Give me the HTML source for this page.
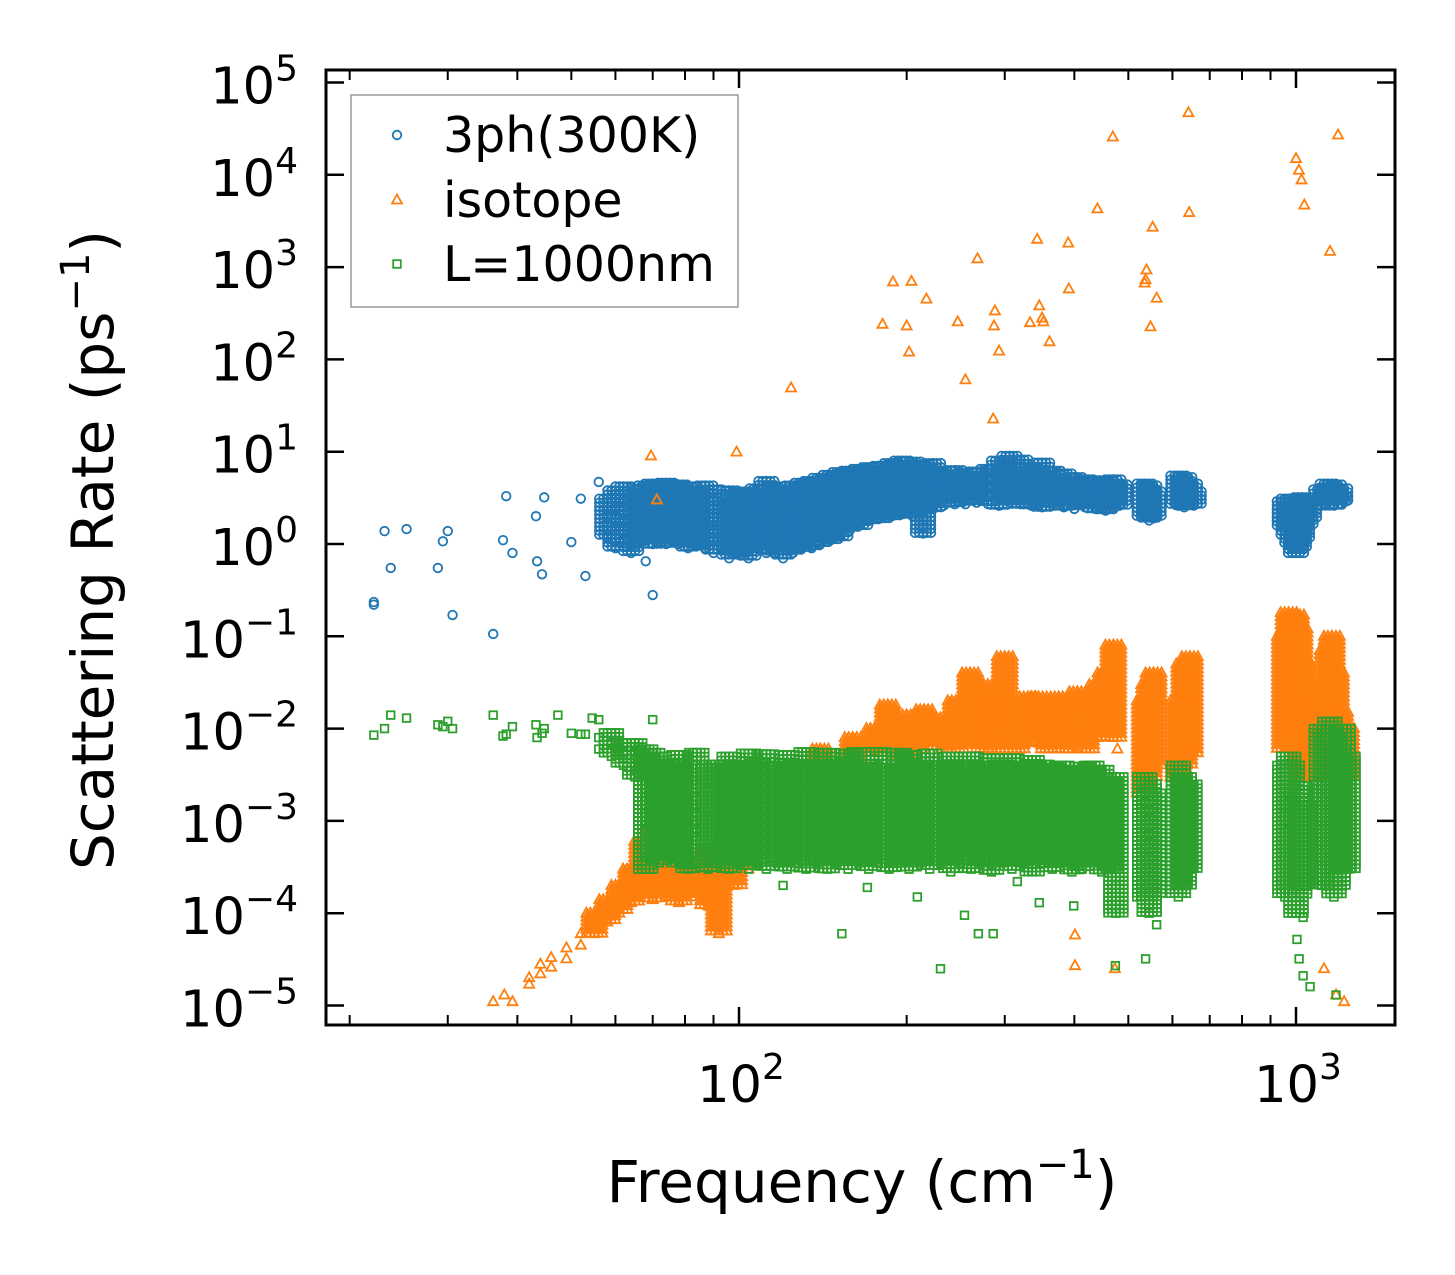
<!DOCTYPE html>
<html><head><meta charset="utf-8"><style>
html,body{margin:0;padding:0;background:#fff;}
svg{display:block;}
text{font-family:"DejaVu Sans","Liberation Sans",sans-serif;fill:#000;}
</style></head>
<body>
<svg id="chart" width="1455" height="1275" viewBox="0 0 1455 1275">
<g id="series"></g>
<g id="axes"></g>
</svg>
<script>
// ---- data ----
const blueSparse = [[22.1,0.235],[22.1,0.22],[23.1,1.38],[23.7,0.55],[25.3,1.45],[28.8,0.55],[29.4,1.07],[30.0,1.38],[30.6,0.17],[36.2,0.106],[38.2,3.3],[37.7,1.1],[39.2,0.8],[43.2,2.0],[43.4,0.65],[44.3,0.47],[44.7,3.2],[50,1.05],[53,0.45],[52,3.1],[56,4.7],[70,0.28],[68,0.65],[66,2.9]];
const blueCols = [
[58,1.2,2.0,3.1],[60,0.9,1.5,2.4,3.8],[62,1.1,1.8,2.9,4.2],[64,0.8,1.3,2.2,3.4],[66,1.0,1.6,2.6,4.0],
[68,1.1,1.4,1.9,2.5,3.2,4.3],[70,1.0,1.3,1.7,2.2,2.9,3.7,4.5],[72,1.2,1.5,2.0,2.6,3.3,4.2],[74,1.0,1.3,1.7,2.3,3.0,3.9,4.6],
[76,1.1,1.4,1.9,2.5,3.2,4.1],[78,1.0,1.3,1.7,2.2,2.8,3.6,4.4],[81,0.9,1.2,1.6,2.1,2.7,3.5,4.2],[84,1.0,1.3,1.7,2.2,2.9,3.7],
[87,0.9,1.2,1.5,2.0,2.6,3.4,4.3],[90,0.8,1.1,1.4,1.8,2.4,3.1,3.9],[93,0.9,1.1,1.4,1.9,2.5,3.2],[96,0.7,1.0,1.3,1.7,2.2,2.9,3.8],
[100,0.8,1.0,1.3,1.7,2.2,2.9,3.6],[104,0.7,1.0,1.2,1.6,2.1,2.8,3.7],[108,0.9,1.1,1.4,1.8,2.4,3.1,4.0],[112,0.8,1.0,1.3,1.7,2.2,2.9,3.8,4.8],
[116,0.8,1.1,1.4,1.9,2.5,3.3,4.2],[120,0.7,1.0,1.3,1.7,2.2,2.9,3.8],[125,0.8,1.1,1.5,2.0,2.6,3.4,4.3],[130,0.9,1.2,1.6,2.1,2.8,3.6,4.6],
[135,0.9,1.2,1.6,2.1,2.8,3.7,4.8],[140,1.0,1.3,1.8,2.4,3.1,4.0,5.2],[146,1.1,1.5,2.0,2.6,3.4,4.4,5.6],[152,1.2,1.6,2.1,2.8,3.6,4.7,6.0],
[158,1.4,1.8,2.3,3.0,3.9,5.0,6.2],[165,1.6,2.0,2.6,3.3,4.2,5.3,6.5],[172,1.8,2.3,2.9,3.7,4.6,5.7,6.8],[180,1.9,2.4,3.0,3.8,4.8,6.0,7.0],
[188,2.0,2.5,3.2,4.0,5.0,6.3,7.5],[196,2.1,2.7,3.4,4.3,5.4,6.7,8.0],[205,2.0,2.6,3.3,4.2,5.3,6.6,7.8],[214,1.3,1.5,2.2,2.8,3.6,4.6,5.8,7.2],
[223,2.4,3.0,3.8,4.8,6.0,7.5],[233,2.6,3.2,4.0,5.0,6.2],[244,2.7,3.3,4.1,5.1,6.3],[255,2.7,3.3,4.0,4.9,5.9],[267,2.8,3.4,4.1,5.0,6.1],
[280,2.7,3.3,4.1,5.1,6.5],[293,2.6,3.2,4.0,5.0,6.4,8.0],[306,2.8,3.5,4.4,5.5,7.0,9.0],[320,2.7,3.4,4.3,5.4,6.8,8.2],[335,2.6,3.3,4.2,5.3,6.6],
[350,2.5,3.2,4.0,5.0,6.3,7.6],[366,2.6,3.3,4.1,5.1,6.2],[383,2.5,3.1,3.9,4.8,5.8],[400,2.4,3.0,3.7,4.5,5.3],[418,2.5,3.0,3.6,4.3,5.0],
[437,2.4,2.9,3.5,4.2,4.9],[455,2.3,2.8,3.4,4.1,4.8],[470,2.5,3.0,3.6,4.3,5.0],[482,2.6,3.1,3.7,4.4],
[535,2.0,2.5,3.1,3.8,4.5],[545,1.8,2.3,2.9,3.6,4.3],[555,1.9,2.4,3.0,3.7],[615,2.6,3.2,3.9,4.7,5.5],[630,2.5,3.1,3.8,4.6,5.3],
[645,2.7,3.2,3.8,4.5],[655,2.6,3.1,3.7],[955,1.5,1.9,2.4,2.9],[970,1.2,1.6,2.0,2.6,3.1],[985,1.0,1.3,1.7,2.2,2.8],
[1000,0.8,1.0,1.3,1.8,2.4],[1012,0.9,1.2,1.6,2.2,2.8],[1025,1.1,1.5,2.0,2.6,3.2],[1040,1.5,1.9,2.4,3.0],[1055,1.8,2.3,2.9],
[1110,2.6,3.2,3.9],[1140,2.8,3.4,4.1,4.5],[1170,2.6,3.2,3.9,4.4],[1200,2.7,3.3,4.0],[1230,2.9,3.4]];
const orangeSparse = [[69.5,9.0],[71.2,3.0],[99,9.9],[124,49],[181,240],[189,690],[200,230],[202,120],[204,700],[217,450],[247,255],[255,60],[268,1230],[286,22.6],[288,335],[287,230],[293,123],[343,2000],[333,250],[346,380],[350,280],[352,255],[361,155],[390,1820],[391,580],[440,4270],[469,25700],[539,930],[535,670],[537,730],[548,225],[553,2700],[562,460],[641,47000],[643,3900],[1000,15000],[1012,11200],[1023,8800],[1035,4700],[1151,1480],[1190,27000],
[36.2,1.1e-5],[37.9,1.3e-5],[39.2,1.1e-5],[401,5.8e-5],[401,2.7e-5],[473,2.5e-5],[1123,2.5e-5],[1220,1.1e-5],[1180,1.3e-5]];
const orangeCols = [
[42,1.7e-5,2.0e-5],[44,2.2e-5,2.8e-5],[46,2.6e-5,3.3e-5],[49,3.2e-5,4.2e-5],[52,4.5e-5,6e-5],[55,6e-5,8e-5,1.0e-4],[58,8e-5,1.1e-4,1.4e-4],
[61,1.0e-4,1.4e-4,2.0e-4],[64,1.3e-4,2.0e-4,3.0e-4],[67,1.8e-4,2.6e-4,4e-4,6e-4],[70,1.4e-4,2.2e-4,3.5e-4,5.5e-4,8e-4],[74,1.5e-4,2.5e-4,4e-4,6e-4,9e-4],
[78,1.3e-4,2.2e-4,3.5e-4,5.5e-4],[83,1.5e-4,2.5e-4,4e-4],[88,1.2e-4,2e-4,3e-4,5e-4],[92,6e-5,1.2e-4,2e-4,3.5e-4],[98,2e-4,3e-4,5e-4],[104,3e-4,5e-4,8e-4],
[120,3e-3,4e-3],[140,3e-3,4.5e-3,6e-3],[160,4e-3,6e-3,8e-3],[175,5e-3,7e-3,1e-2],[185,6e-3,9e-3,1.3e-2,1.8e-2],[200,5e-3,7e-3,1e-2,1.4e-2],
[215,6e-3,8e-3,1.1e-2,1.6e-2],[230,6e-3,9e-3,1.3e-2],[245,6e-3,9e-3,1.3e-2,2e-2],[260,7e-3,1e-2,1.5e-2,2.5e-2,4e-2],[275,6e-3,9e-3,1.3e-2,2e-2,3e-2],
[290,6e-3,9e-3,1.3e-2,2e-2],[300,8e-3,1.2e-2,1.8e-2,3e-2,5e-2,6e-2],[315,6e-3,9e-3,1.3e-2,2e-2],[330,7e-3,1e-2,1.5e-2,2.2e-2],[345,7e-3,1e-2,1.5e-2,2.2e-2],
[360,6e-3,9e-3,1.3e-2,2e-2],[375,7e-3,1e-2,1.5e-2,2.2e-2],[390,6e-3,9e-3,1.3e-2,2.0e-2],[405,7e-3,1e-2,1.5e-2,2.5e-2],[420,6e-3,9e-3,1.3e-2,2e-2],
[440,8e-3,1.2e-2,1.8e-2,3e-2],[455,1e-2,1.5e-2,2.5e-2,4e-2],[470,8e-3,1.3e-2,2e-2,3.5e-2,5.5e-2,8e-2],[478,6e-3,1e-2],
[535,2e-3,4e-3,7e-3,1.2e-2,2e-2],[545,3e-3,6e-3,1e-2,1.8e-2,3e-2],[555,4e-3,8e-3,1.5e-2,2.5e-2,4e-2],[615,3e-3,6e-3,1e-2,2e-2],
[630,4e-3,8e-3,1.5e-2,3e-2,5e-2],[645,5e-3,1e-2,2e-2,4e-2,6e-2],[955,6e-3,1.2e-2,2.5e-2,5e-2,1e-1],[970,8e-3,1.5e-2,3e-2,6e-2,1.2e-1,1.8e-1],
[985,1e-2,2e-2,4e-2,8e-2,1.5e-1],[1000,6e-3,1.2e-2,2.5e-2,5e-2,1e-1,1.7e-1],[1015,4e-3,8e-3,1.5e-2,3e-2,6e-2,1.2e-1],[1030,3e-3,6e-3,1.2e-2,2.5e-2,5e-2],
[1045,3e-3,6e-3,1e-2],[1110,3e-3,6e-3,1.2e-2,2.5e-2],[1140,1e-2,2e-2,4e-2,7e-2],[1160,6e-3,1.2e-2,2.5e-2,5e-2,1e-1],[1180,5e-3,1e-2,2e-2,4e-2],
[1200,4e-3,8e-3,1.5e-2],[1230,3e-3,6e-3,1e-2]];
const greenSparse = [[22.1,8.5e-3],[23.1,1e-2],[23.7,1.4e-2],[25.3,1.3e-2],[28.8,1.1e-2],[29.4,1.05e-2],[30,1.2e-2],[30.6,1e-2],[36.2,1.4e-2],[37.7,8.3e-3],[38.2,8.7e-3],[39.2,1.05e-2],[43.2,1.1e-2],[43.4,8e-3],[44.3,8.9e-3],[44.7,1e-2],[47.3,1.4e-2],[50,8.9e-3],[52,8.7e-3],[53,8.7e-3],[54.5,1.3e-2],[56,1.25e-2],[70,1.25e-2],
[120,2e-4],[153,6e-5],[170,1.9e-4],[209,1.5e-4],[230,2.5e-5],[254,9.5e-5],[269,6e-5],[286,6e-5],[316,2.2e-4],[346,1.3e-4],[399,1.2e-4],[474,2.7e-5],[537,3.2e-5],[562,7.5e-5],[1004,5.2e-5],[1013,3.2e-5],[1030,2.1e-5],[1060,1.6e-5],[1180,1.3e-5],[1030,9e-5]];
const greenCols = [
[56,6e-3,8e-3],[59,5e-3,7e-3,9e-3],[62,4e-3,5.5e-3,7e-3],[65,3e-3,4e-3,5.5e-3,7e-3],
[68,3e-4,5e-4,8e-4,1.2e-3,1.8e-3,2.7e-3,4e-3,6e-3],[70,4e-4,6e-4,9e-4,1.3e-3,1.9e-3,2.8e-3,4e-3,5.5e-3],[72,3.5e-4,5.5e-4,8e-4,1.2e-3,1.8e-3,2.6e-3,3.8e-3,5e-3],
[75,4e-4,6e-4,9e-4,1.3e-3,2e-3,2.9e-3,4.2e-3],[78,3.5e-4,5.5e-4,8.5e-4,1.2e-3,1.8e-3,2.7e-3,3.9e-3,5.2e-3],[81,3e-4,5e-4,7.5e-4,1.1e-3,1.7e-3,2.5e-3,3.7e-3],
[84,3.5e-4,5.5e-4,8e-4,1.2e-3,1.8e-3,2.7e-3,4e-3,5.5e-3],[88,3e-4,5e-4,7.5e-4,1.1e-3,1.7e-3,2.6e-3,3.8e-3],[92,3.5e-4,5.5e-4,8.5e-4,1.3e-3,1.9e-3,2.8e-3,4.1e-3],
[96,3e-4,4.5e-4,7e-4,1.05e-3,1.6e-3,2.4e-3,3.6e-3,5e-3],[100,3.5e-4,5.5e-4,8e-4,1.2e-3,1.8e-3,2.7e-3,4e-3],[104,3e-4,5e-4,7.5e-4,1.1e-3,1.7e-3,2.6e-3,3.9e-3,5.4e-3],
[108,3.5e-4,5.5e-4,8.5e-4,1.3e-3,1.9e-3,2.9e-3,4.2e-3],[112,3e-4,5e-4,7.5e-4,1.1e-3,1.7e-3,2.5e-3,3.7e-3,5.3e-3],[117,3.5e-4,5.5e-4,8e-4,1.2e-3,1.8e-3,2.7e-3,4e-3],
[122,3e-4,4.5e-4,7e-4,1.05e-3,1.6e-3,2.4e-3,3.6e-3,5.2e-3],[127,3.5e-4,5.5e-4,8.5e-4,1.3e-3,1.9e-3,2.8e-3,4.1e-3],[132,3e-4,5e-4,7.5e-4,1.1e-3,1.7e-3,2.6e-3,3.9e-3,5.6e-3],
[138,3.5e-4,5.5e-4,8e-4,1.2e-3,1.8e-3,2.7e-3,4e-3],[144,3e-4,5e-4,7.5e-4,1.15e-3,1.7e-3,2.6e-3,3.8e-3,5.5e-3],[150,3.5e-4,5.5e-4,8.5e-4,1.3e-3,1.9e-3,2.8e-3,4.2e-3],
[157,3e-4,4.5e-4,7e-4,1.05e-3,1.6e-3,2.4e-3,3.6e-3,5.4e-3],[164,3.5e-4,5.5e-4,8e-4,1.2e-3,1.8e-3,2.7e-3,4e-3,5.6e-3],[171,3e-4,5e-4,7.5e-4,1.1e-3,1.7e-3,2.6e-3,3.9e-3],
[178,3.5e-4,5.5e-4,8.5e-4,1.3e-3,1.9e-3,2.8e-3,4.1e-3,5.6e-3],[186,3e-4,5e-4,7.5e-4,1.1e-3,1.7e-3,2.5e-3,3.8e-3],[194,3.5e-4,5.5e-4,8e-4,1.2e-3,1.8e-3,2.7e-3,4e-3,5.5e-3],
[202,3e-4,4.5e-4,7e-4,1.05e-3,1.6e-3,2.4e-3,3.6e-3,5.2e-3],[211,3.5e-4,5.5e-4,8.5e-4,1.3e-3,1.9e-3,2.8e-3,4.1e-3],[220,3e-4,5e-4,7.5e-4,1.1e-3,1.7e-3,2.6e-3,3.9e-3,5.4e-3],
[230,3.5e-4,5.5e-4,8e-4,1.2e-3,1.8e-3,2.7e-3,4e-3],[240,2.8e-4,4.5e-4,7e-4,1.05e-3,1.6e-3,2.4e-3,3.6e-3,5e-3],[250,3.5e-4,5.5e-4,8.5e-4,1.3e-3,1.9e-3,2.8e-3,4.1e-3],
[261,3e-4,5e-4,7.5e-4,1.1e-3,1.7e-3,2.6e-3,3.9e-3,5e-3],[272,3.5e-4,5.5e-4,8e-4,1.2e-3,1.8e-3,2.7e-3,4e-3],[284,2.8e-4,4.5e-4,7e-4,1.05e-3,1.6e-3,2.4e-3,3.6e-3,4.8e-3],
[296,3.5e-4,5.5e-4,8.5e-4,1.3e-3,1.9e-3,2.8e-3,4.1e-3],[309,3e-4,5e-4,7.5e-4,1.1e-3,1.7e-3,2.6e-3,3.9e-3,4.8e-3],[322,3.5e-4,5.5e-4,8e-4,1.2e-3,1.8e-3,2.7e-3,4e-3],
[336,2.8e-4,4.5e-4,7e-4,1.05e-3,1.6e-3,2.4e-3,3.6e-3,4.6e-3],[350,3.5e-4,5.5e-4,8.5e-4,1.3e-3,1.9e-3,2.8e-3,4.1e-3],[365,3e-4,5e-4,7.5e-4,1.1e-3,1.7e-3,2.6e-3,3.8e-3],
[380,3.5e-4,5.5e-4,8e-4,1.2e-3,1.8e-3,2.7e-3,4e-3],[396,2.8e-4,4.5e-4,7e-4,1.05e-3,1.6e-3,2.4e-3,3.6e-3],[413,3e-4,5e-4,7.5e-4,1.1e-3,1.7e-3,2.6e-3,3.9e-3],
[430,3.5e-4,5.5e-4,8e-4,1.2e-3,1.8e-3,2.7e-3,4e-3],[448,2.8e-4,4.5e-4,7e-4,1.05e-3,1.6e-3,2.4e-3,3.6e-3],[465,3e-4,5e-4,7.5e-4,1.1e-3,1.7e-3,2.6e-3],
[475,1e-4,2e-4,4e-4,8e-4,1.5e-3,3e-3],[535,1.5e-4,3e-4,5e-4,9e-4,1.6e-3,3e-3],[545,1e-4,2e-4,4e-4,7e-4,1.3e-3,2.5e-3],[555,1.5e-4,3e-4,6e-4,1.1e-3,2e-3],
[615,1.5e-4,3e-4,6e-4,1.2e-3,2.4e-3,4e-3],[630,2e-4,4e-4,8e-4,1.5e-3,3e-3],[645,3e-4,6e-4,1.2e-3,2.5e-3],
[955,1.5e-4,3e-4,6e-4,1.2e-3,2.5e-3,4e-3],[970,2e-4,4e-4,8e-4,1.6e-3,3e-3,5e-3],[985,3e-4,6e-4,1.2e-3,2.4e-3,4e-3],[1000,1e-4,2.5e-4,5e-4,1e-3,2e-3],
[1015,1.5e-4,3e-4,6e-4,1.2e-3,2.4e-3],[1030,2e-4,4e-4,8e-4,1.5e-3],[1110,2e-4,4e-4,8e-4,1.5e-3,3e-3,6e-3,1e-2],[1130,3e-4,6e-4,1.2e-3,2.4e-3,4.5e-3,8e-3],
[1150,2e-4,4e-4,8e-4,1.6e-3,3e-3,6e-3,1.2e-2],[1170,1.5e-4,3e-4,6e-4,1.2e-3,2.4e-3,4.5e-3,8e-3],[1190,2e-4,4e-4,8e-4,1.6e-3,3e-3,6e-3],
[1215,3e-4,6e-4,1.2e-3,2.5e-3,5e-3,1e-2],[1240,3e-4,6e-4,1.2e-3,2.5e-3,5e-3]];
const yTickExps = [5,4,3,2,1,0,-1,-2,-3,-4,-5];
const xTickExps = [2,3];
const xMinorTicks = [20,30,40,50,60,70,80,90,200,300,400,500,600,700,800,900];
const legendLabels = ["3ph(300K)","isotope","L=1000nm"];

// ---- scales ----
const PL=326, PR=1395, PT=70, PB=1025;
function xs(f){return 739+557*(Math.log10(f)-2);}
function ys(v){return 544-92.3*Math.log10(v);}
const NS="http://www.w3.org/2000/svg";
function mk(tag,attrs,parent){const e=document.createElementNS(NS,tag);for(const k in attrs)e.setAttribute(k,attrs[k]);parent.appendChild(e);return e;}
const gS=document.getElementById('series'), gA=document.getElementById('axes');

function marker(kind,x,y,color,parent){
  let e;
  if(kind==='c') e=mk('circle',{cx:x,cy:y,r:4.3,fill:'none',stroke:color,'stroke-width':1.8},parent);
  else if(kind==='t') e=mk('path',{d:`M${x},${y-5.5}L${x+5},${y+3.5}L${x-5},${y+3.5}Z`,fill:'none',stroke:color,'stroke-width':1.8,'stroke-linejoin':'miter'},parent);
  else e=mk('rect',{x:x-3.8,y:y-3.8,width:7.6,height:7.6,fill:'none',stroke:color,'stroke-width':1.8},parent);
  return e;
}
// Dense columns: the many overlapping points of a column cover the span between its listed values
function drawSeries(name,kind,color,sparse,cols){
  const g=mk('g',{},gS);
  
  
  cols.forEach(c=>{
    const x=xs(c[0]);
    const vals=c.slice(1);
    if(vals.length>=3){
      const yTop=ys(Math.max(...vals)), yBot=ys(Math.min(...vals));
      for(let y=yTop;y<=yBot+0.1;y+=4){
        for(let dx=-8;dx<=8;dx+=4){
          const m=marker(kind,x+dx,y,color,g);
          
          
        }
      }
    }
    vals.forEach(v=>{const m=marker(kind,x,ys(v),color,g);
      
      });
  });
  sparse.forEach(p=>{const m=marker(kind,xs(p[0]),ys(p[1]),color,g);
    
    });
}
const clip=mk('clipPath',{id:'pc'},document.getElementById('chart'));
mk('rect',{x:PL,y:PT,width:PR-PL,height:PB-PT},clip);
gS.setAttribute('clip-path','url(#pc)');
drawSeries('3ph','c','#1f77b4',blueSparse,blueCols);
drawSeries('isotope','t','#ff7f0e',orangeSparse,orangeCols);
drawSeries('boundary','s','#2ca02c',greenSparse,greenCols);

// ---- axes ----
const frame=mk('rect',{x:PL,y:PT,width:PR-PL,height:PB-PT,fill:'none',stroke:'#000','stroke-width':3},gA);


yTickExps.forEach(e=>{const y=ys(Math.pow(10,e));
  mk('line',{x1:PL,x2:PL+18,y1:y,y2:y,stroke:'#000','stroke-width':2.5},gA);
  mk('line',{x1:PR,x2:PR-18,y1:y,y2:y,stroke:'#000','stroke-width':2.5},gA);
  const t=mk('text',{x:298,y:y+21,'text-anchor':'end','font-size':51},gA);
  
  
  t.innerHTML=`10<tspan dy="-23" font-size="36">${e<0?'\u2212'+(-e):e}</tspan>`;
});
xTickExps.forEach(e=>{const x=xs(Math.pow(10,e));
  mk('line',{x1:x,x2:x,y1:PB,y2:PB-18,stroke:'#000','stroke-width':2.5},gA);
  mk('line',{x1:x,x2:x,y1:PT,y2:PT+18,stroke:'#000','stroke-width':2.5},gA);
  const t=mk('text',{x:x+2,y:1102,'text-anchor':'middle','font-size':51},gA);
  
  
  t.innerHTML=`10<tspan dy="-23" font-size="36">${e}</tspan>`;
});
xMinorTicks.forEach(f=>{const x=xs(f);
  mk('line',{x1:x,x2:x,y1:PB,y2:PB-10,stroke:'#000','stroke-width':2},gA);
  mk('line',{x1:x,x2:x,y1:PT,y2:PT+10,stroke:'#000','stroke-width':2},gA);
});
const xl=mk('text',{x:862,y:1202,'text-anchor':'middle','font-size':58},gA);


xl.innerHTML='Frequency (cm<tspan dy="-24" font-size="40">\u22121</tspan><tspan dy="24">)</tspan>';
const yl=mk('text',{x:0,y:0,'text-anchor':'middle','font-size':58,transform:'translate(113,550) rotate(-90)'},gA);


yl.innerHTML='Scattering Rate (ps<tspan dy="-24" font-size="40">\u22121</tspan><tspan dy="24">)</tspan>';

// ---- legend ----
const lg=mk('g',{},gA);


mk('rect',{x:351,y:95,width:387,height:212,fill:'#fff','fill-opacity':0.8,stroke:'#999','stroke-width':1.5},lg);
const kinds=['c','t','s'], cols=['#1f77b4','#ff7f0e','#2ca02c'], ly=[135,200,264];
legendLabels.forEach((lab,i)=>{
  const m=marker(kinds[i],397,ly[i],cols[i],lg);
  
  
  const t=mk('text',{x:443,y:ly[i]+17,'font-size':49},lg);
  
  
  t.textContent=lab;
});
</script>
</body></html>
